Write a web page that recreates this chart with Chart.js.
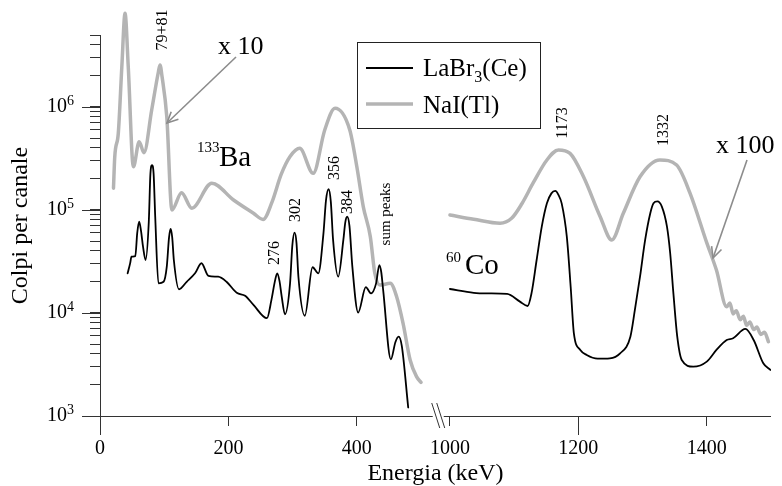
<!DOCTYPE html>
<html><head><meta charset="utf-8">
<script src="https://cdn.jsdelivr.net/npm/chart.js@4.4.0/dist/chart.umd.min.js"></script>
<style>html,body{margin:0;padding:0;background:#fff;}#wrap{width:782px;height:486px;}</style>
</head><body><div id="wrap"><canvas id="c" width="782" height="486"></canvas></div>
<script>
// ---- axis break: energies >= 1000 keV are shifted left by this amount ----
const BREAK_SHIFT = 455;
const BREAK_AT = 526;           // axis position of the "//" mark
function toAxis(e){ return e >= 1000 ? e - BREAK_SHIFT : e; }

// ---- tick labels ----
const xTickEnergies = [0, 200, 400, 1000, 1200, 1400];
const xTickLabels   = ['0', '200', '400', '1000', '1200', '1400'];
const xLongTicks    = [0, 1200];
const yMajorTicks   = [1e3, 1e4, 1e5, 1e6];
const yTickExponents = ['3', '4', '5', '6'];
const yMinorTicks   = [2e3,3e3,4e3,5e3,6e3,7e3,8e3,9e3,2e4,3e4,4e4,5e4,6e4,7e4,8e4,9e4,
                       2e5,3e5,4e5,5e5,6e5,7e5,8e5,9e5,2e6,3e6,4e6,5e6];

// ---- 133Ba spectrum, LaBr3(Ce) ----
const baLaBrEnergy = [43,47,49,55,58,61,64,67,71,76,78.5,81,83.5,86,91,99,104,107.5,110,112.5,115,123,135,148,158,169,
  184,197,213,226,239,260,267,272.5,276,279.5,283,288,296,299.5,303,306,309,319,331,340,348,352,356,359.5,363,371,379,
  382,385,388.5,393,402,414,422,430,435,438,441,453,460,465,470,480];
const baLaBrCounts = [24300,30500,35200,35700,60000,76900,62000,44000,32700,77000,224000,273000,224000,86000,19400,20100,
  28200,54000,65500,54000,32700,17000,20100,24300,30400,22900,22500,20100,15700,14700,12000,8900,13400,20500,24300,20500,
  14400,9700,19400,45000,60300,48000,22500,9400,27800,24300,59400,125000,159000,120000,51200,22500,51200,76000,86000,
  70000,28200,10100,17800,15500,19400,29200,25000,16700,3550,5200,5890,4800,1210];

// ---- 133Ba spectrum, NaI(Tl) (x 10) ----
const baNaIEnergy = [21,23,28.5,34,39,44,52,61,68.5,80.5,91,93.5,96.5,104,112,127,143,174,208,239,254,268,282,296,311,
  332,350,366,389,400,410,421,428,436,452,462,472,483,493,500];
const baNaICounts = [163000,329000,556000,2460000,8130000,2460000,263000,460000,360000,935000,2200000,2560000,2000000,
  805000,100000,147000,104000,182000,125000,92900,80900,120000,220000,330000,397000,227000,598000,971000,598000,263000,
  108000,55100,24300,18700,19400,14400,7940,3500,2410,2120];

// ---- 60Co spectrum, LaBr3(Ce) ----
const coLaBrEnergy = [1000,1037,1060,1089,1109,1121,1127,1135,1143,1151,1158,1164,1169,1174,1182,1188,1193,1203,1213,
  1230,1249,1265,1281,1288,1296,1304,1312,1317,1323,1330,1338,1343,1348,1354,1361,1379,1400,1415,1431,1441,1460,1473,
  1488,1499];
const coLaBrCounts = [17100,15700,15500,15300,12900,11700,15500,32700,68900,116000,145000,153000,140000,116000,55100,
  18000,6350,4380,3910,3600,3630,4060,5890,10700,22500,51200,92900,116000,121000,108000,68900,38000,15500,5890,3500,
  3010,3370,4380,5470,5680,7000,5470,3250,2800];

// ---- 60Co spectrum, NaI(Tl) (x 100) ----
const coNaIEnergy = [1000,1037,1078,1096,1112,1130,1151,1169,1187,1208,1234,1252,1270,1296,1327,1353,1374,1400,1415,
  1431,1436,1441,1446,1452,1457,1462,1467,1473,1478,1484,1490,1496];
const coNaICounts = [89300,81300,74300,83000,115000,185000,306000,383000,355000,210000,86100,51200,92900,210000,306000,
  273000,145000,47900,26100,11500,12500,9800,10500,8600,9300,7600,8200,6900,7300,6200,6500,5260];

const SERIF = '"Liberation Serif", "Times New Roman", serif';
const BLACK = '#000000';
const GRAY = '#b4b4b4';
const AXIS = '#333333';

function pts(es, vs){ return es.map((e,i)=>({x: toAxis(e), y: vs[i]})); }

const overlay = {
  id: 'overlay',
  afterDraw(chart){
    const ctx = chart.ctx, xs = chart.scales.x, ys = chart.scales.y;
    const bot = chart.chartArea.bottom;
    ctx.save();
    // x axis line with break
    const xb = xs.getPixelForValue(BREAK_AT);
    ctx.strokeStyle = AXIS; ctx.lineWidth = 1;
    ctx.beginPath();
    ctx.moveTo(xs.left, bot + 0.5); ctx.lineTo(xb - 5, bot + 0.5);
    ctx.moveTo(xb + 6, bot + 0.5); ctx.lineTo(xs.right, bot + 0.5);
    ctx.stroke();
    // break marks
    ctx.beginPath();
    ctx.moveTo(xb - 6, bot - 13); ctx.lineTo(xb + 2, bot + 12);
    ctx.moveTo(xb - 1, bot - 13); ctx.lineTo(xb + 7, bot + 12);
    ctx.stroke();
    // long x ticks
    ctx.beginPath();
    xLongTicks.forEach(e => { const p = Math.round(xs.getPixelForValue(toAxis(e))) + 0.5; ctx.moveTo(p, bot); ctx.lineTo(p, bot + 19); });
    // long y major ticks
    yMajorTicks.forEach(v => { const p = Math.round(ys.getPixelForValue(v)) + 0.5; ctx.moveTo(ys.right - 18, p); ctx.lineTo(ys.right, p); });
    ctx.stroke();
    // exponents of y labels
    ctx.fillStyle = '#000'; ctx.font = '14px ' + SERIF; ctx.textAlign = 'left'; ctx.textBaseline = 'alphabetic';
    yMajorTicks.forEach((v,i) => { const p = ys.getPixelForValue(v); ctx.fillText(yTickExponents[i], 67, p - 2); });

    // rotated peak labels
    const rot = (txt, x, y, size) => {
      ctx.save(); ctx.translate(x, y); ctx.rotate(-Math.PI/2);
      ctx.font = size + 'px ' + SERIF; ctx.textAlign = 'center'; ctx.textBaseline = 'middle';
      ctx.fillText(txt, 0, 0); ctx.restore();
    };
    rot('79+81', 163, 30, 16);
    rot('276', 275, 253, 16);
    rot('302', 296, 210, 16);
    rot('356', 335, 168, 16);
    rot('384', 348, 202, 16);
    rot('sum peaks', 386, 214, 15);
    rot('1173', 563, 123, 16);
    rot('1332', 664, 130, 16);

    // isotope labels
    ctx.textAlign = 'left'; ctx.textBaseline = 'alphabetic';
    ctx.font = '15px ' + SERIF; ctx.fillText('133', 197, 152);
    ctx.font = '29px ' + SERIF; ctx.fillText('Ba', 219, 166);
    ctx.font = '15px ' + SERIF; ctx.fillText('60', 446, 262);
    ctx.font = '29px ' + SERIF; ctx.fillText('Co', 465, 274);
    ctx.font = '26px ' + SERIF;
    ctx.fillText('x 10', 218, 54);
    ctx.fillText('x 100', 716, 153);

    // arrows
    const arrow = (x1,y1,x2,y2) => {
      ctx.strokeStyle = '#8c8c8c'; ctx.lineWidth = 1.6;
      ctx.beginPath(); ctx.moveTo(x1,y1); ctx.lineTo(x2,y2); ctx.stroke();
      const a = Math.atan2(y2-y1, x2-x1), L = 12, s = 0.45;
      ctx.beginPath();
      ctx.moveTo(x2 - L*Math.cos(a - s), y2 - L*Math.sin(a - s));
      ctx.lineTo(x2, y2);
      ctx.lineTo(x2 - L*Math.cos(a + s), y2 - L*Math.sin(a + s));
      ctx.stroke();
    };
    arrow(236, 57, 167, 123);
    arrow(747, 160, 713, 258);

    // legend
    ctx.strokeStyle = '#222'; ctx.lineWidth = 1;
    ctx.strokeRect(357.5, 42.5, 183, 86);
    ctx.strokeStyle = BLACK; ctx.lineWidth = 2;
    ctx.beginPath(); ctx.moveTo(366, 68); ctx.lineTo(413, 68); ctx.stroke();
    ctx.strokeStyle = GRAY; ctx.lineWidth = 3.5;
    ctx.beginPath(); ctx.moveTo(366, 104); ctx.lineTo(413, 104); ctx.stroke();
    ctx.fillStyle = '#000'; ctx.textBaseline = 'alphabetic';
    ctx.font = '25px ' + SERIF;
    let tx = 423; ctx.fillText('LaBr', tx, 76); tx += ctx.measureText('LaBr').width;
    ctx.font = '16px ' + SERIF; ctx.fillText('3', tx, 82); tx += ctx.measureText('3').width;
    ctx.font = '25px ' + SERIF; ctx.fillText('(Ce)', tx, 76);
    ctx.fillText('NaI(Tl)', 423, 113);
    ctx.restore();
  }
};

new Chart(document.getElementById('c'), {
  type: 'line',
  data: {
    datasets: [
      { label: 'LaBr3(Ce) 133Ba', data: pts(baLaBrEnergy, baLaBrCounts), borderColor: BLACK, borderWidth: 1.8 },
      { label: 'LaBr3(Ce) 60Co', data: pts(coLaBrEnergy, coLaBrCounts), borderColor: BLACK, borderWidth: 1.8 },
      { label: 'NaI(Tl) 133Ba', data: pts(baNaIEnergy, baNaICounts), borderColor: GRAY, borderWidth: 3.5, clip: false },
      { label: 'NaI(Tl) 60Co', data: pts(coNaIEnergy, coNaICounts), borderColor: GRAY, borderWidth: 3.5 }
    ]
  },
  options: {
    responsive: false, animation: false, devicePixelRatio: 1,
    layout: { padding: { top: 33, right: 11, left: 0, bottom: 0 } },
    plugins: { legend: { display: false }, tooltip: { enabled: false } },
    elements: { point: { radius: 0 }, line: { cubicInterpolationMode: 'monotone', fill: false, borderJoinStyle: 'round', borderCapStyle: 'round' } },
    scales: {
      x: {
        type: 'linear', min: 0, max: toAxis(1500),
        afterBuildTicks: s => { s.ticks = xTickEnergies.map(e => ({ value: toAxis(e) })); },
        afterFit: s => { s.height = 70; },
        ticks: { autoSkip: false, maxRotation: 0, padding: 11, color: '#000', font: { family: SERIF, size: 20 },
          callback: v => { const i = xTickEnergies.findIndex(e => toAxis(e) === v); return i >= 0 ? xTickLabels[i] : ''; } },
        grid: { display: true, drawOnChartArea: false, drawTicks: true, tickLength: 10, tickColor: AXIS, tickWidth: 1 },
        border: { display: false },
        title: { display: true, text: 'Energia (keV)', color: '#000', font: { family: SERIF, size: 24, lineHeight: 1 }, padding: { top: 0, bottom: 0 } }
      },
      y: {
        type: 'logarithmic', min: 1000, max: 5e6,
        afterBuildTicks: s => { s.ticks = yMajorTicks.concat(yMinorTicks).sort((a,b)=>a-b).map(v => ({ value: v })); },
        afterFit: s => { s.width = 100; },
        ticks: { autoSkip: false, padding: 23, color: '#000', font: { family: SERIF, size: 20 },
          callback: v => yMajorTicks.includes(v) ? '10' : '' },
        grid: { display: true, drawOnChartArea: false, drawTicks: true, tickLength: 10, tickColor: AXIS, tickWidth: 1 },
        border: { display: true, color: AXIS, width: 1 },
        title: { display: true, text: 'Colpi per canale', color: '#000', font: { family: SERIF, size: 24, lineHeight: 1.2 }, padding: { top: 6, bottom: 0 } }
      }
    }
  },
  plugins: [overlay]
});
</script>
</body></html>
